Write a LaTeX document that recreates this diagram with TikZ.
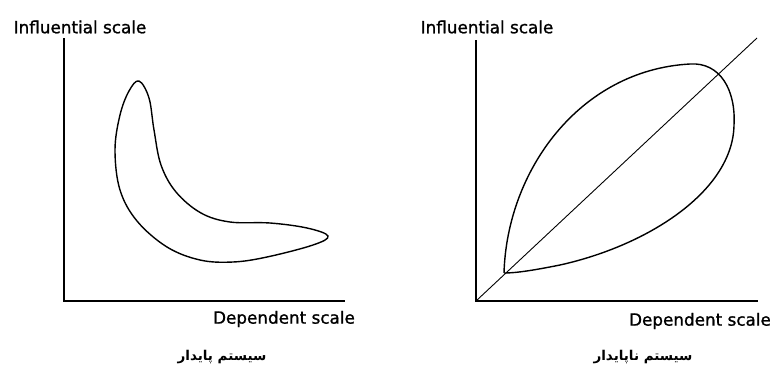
\documentclass[tikz,border=0pt]{standalone}
\usepackage{fontspec}
\setmainfont{DejaVu Sans}
\newfontfamily\lblfont[FakeBold=1.2]{DejaVu Sans}
\newfontfamily\arabicfont[Script=Arabic]{DejaVu Sans}
\TeXXeTstate=1
\begin{document}
\begin{tikzpicture}[x=1pt,y=-1pt,
  axis/.style={line width=1.8pt},
  curve/.style={line width=1.4pt},
  diag/.style={line width=0.9pt},
  lbl/.style={font=\lblfont\fontsize{16.8}{18}\selectfont, inner sep=0pt},
  captxt/.style={font=\arabicfont\bfseries\fontsize{13.5}{16}\selectfont, inner sep=0pt}]
\useasboundingbox[fill=white] (0,0) rectangle (770,372);
% left panel
\coordinate (LT) at (64,38);
\coordinate (LO) at (64,301);
\coordinate (LR) at (345,301);
\draw[axis] (LT) -- (LO) -- (LR);
\node[lbl] (ly) at (80,27) {Influential scale};
\node[lbl] (lx) at (284,319) {Dependent scale};
\node[captxt] (lc) at (222,357) {\beginR سیستم پایدار\endR};
\draw[curve] plot[smooth cycle, tension=0.6] coordinates {
  (139,81) (149,98) (154,130) (161,165) (176,192) (201,213) (230,222)
  (270,223) (307,228) (328,236) (313,245) (267,257) (233,262)
  (200,260) (167,247) (137,221) (120,190) (115,150) (120,115) (129,91)};
% right panel
\coordinate (RT) at (476,40);
\coordinate (RO) at (476,301);
\coordinate (RR) at (758,301);
\coordinate (RD) at (757,38);
\draw[axis] (RT) -- (RO) -- (RR);
\draw[diag] (RO) -- (RD);
\node[lbl] (ry) at (487,27) {Influential scale};
\node[lbl] (rx) at (700,321) {Dependent scale};
\node[captxt] (rc) at (643,357) {\beginR سیستم ناپایدار\endR};
\coordinate (A) at (504,273);
\draw[curve] (A) .. controls (507,170) and (580,70) .. (690,64)
  .. controls (720,62) and (736,90) .. (734,125)
  .. controls (733,190) and (650,245) .. (560,265)
  .. controls (530,271) and (515,273) .. (A);
\end{tikzpicture}
\end{document}
